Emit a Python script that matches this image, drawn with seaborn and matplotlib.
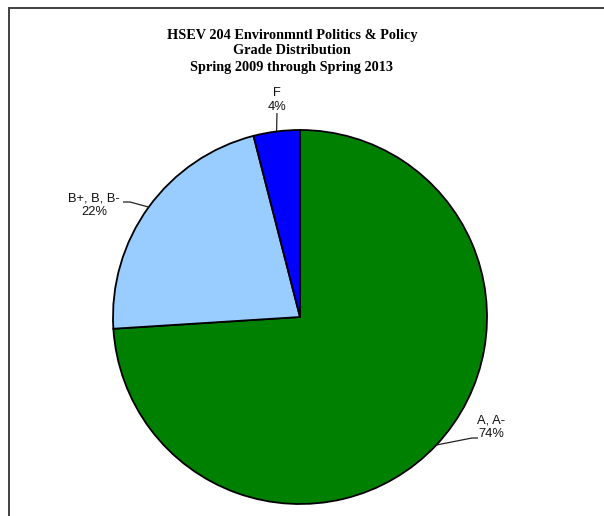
import matplotlib
matplotlib.use("Agg")
import numpy as np
import matplotlib.pyplot as plt
import seaborn as sns
from matplotlib.patches import Rectangle

# Grade groups and their share of all grades (percent)
grades = ["A, A-", "B+, B, B-", "F"]
shares = [74, 22, 4]
colors = ["#008000", "#99CCFF", "#0000FF"]
title_lines = [
    "HSEV 204 Environmntl Politics & Policy",
    "Grade Distribution",
    "Spring 2009 through Spring 2013",
]

sns.set_theme(style="white")
plt.rcParams["font.family"] = ["Liberation Sans", "DejaVu Sans"]

W, H = 604, 516
fig = plt.figure(figsize=(W / 100, H / 100), dpi=100)
ax = fig.add_axes([0, 0, 1, 1])

# Layout in pixel units (y measured from the top edge)
cx, cy, radius = 300, 317, 187
center = (cx, H - cy)

wedges, _ = ax.pie(
    shares,
    colors=colors,
    startangle=90,
    counterclock=False,
    center=center,
    radius=radius,
    frame=True,
    wedgeprops=dict(edgecolor="black", linewidth=1.3, antialiased=True),
)
ax.set_xlim(0, W)
ax.set_ylim(0, H)
ax.set_aspect("equal")
ax.axis("off")

# Label text centres and leader-line elbows (pixel units, y from top)
label_layout = {
    "A, A-": dict(text=(491, 427), path=[(472, 438), (478, 438)]),
    "B+, B, B-": dict(text=(94, 205), path=[(130, 202), (123, 202)]),
    "F": dict(text=(277, 100), path=[(277, 113)]),
}

total = sum(shares)
for wedge, name, val in zip(wedges, grades, shares):
    mid = np.deg2rad((wedge.theta1 + wedge.theta2) / 2)
    ax_pt = (cx + radius * np.cos(mid), H - (cy - radius * np.sin(mid)))
    lay = label_layout[name]
    xs = [ax_pt[0]] + [p[0] for p in lay["path"]]
    ys = [ax_pt[1]] + [H - p[1] for p in lay["path"]]
    ax.plot(xs, ys, color="#222222", lw=0.9, solid_capstyle="butt")
    pct = round(100 * val / total)
    ax.text(lay["text"][0], H - lay["text"][1], f"{name}\n{pct}%",
            ha="center", va="center", fontsize=9.3, color="#111111",
            linespacing=1.2)

# Title
for i, line in enumerate(title_lines):
    ax.text(292, H - (35 + 16 * i), line, ha="center", va="center",
            fontsize=10.3, fontweight="bold", family="Liberation Serif",
            color="black")

# Chart-area border (open to the right and bottom)
ax.add_patch(Rectangle((9, -20), W + 40, (H - 8) + 20, fill=False,
                       edgecolor="#404040", linewidth=1.4, clip_on=False))

fig.savefig("out.png", dpi=100, facecolor="white")
